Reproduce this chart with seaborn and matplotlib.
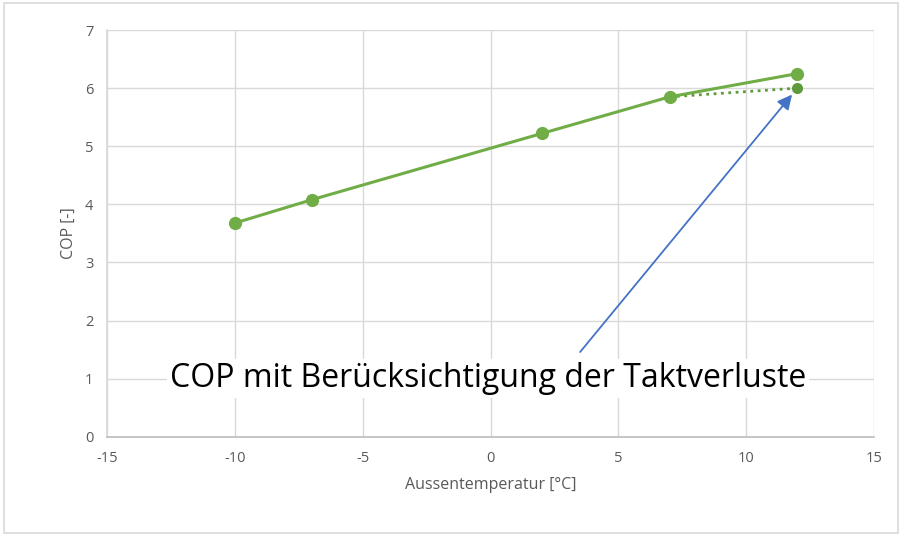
import numpy as np
import pandas as pd
import seaborn as sns
import matplotlib.pyplot as plt
from matplotlib.patches import Rectangle

# data
temp = [-10, -7, 2, 7, 12]
cop = [3.68, 4.08, 5.22, 5.85, 6.25]
cop_takt = [3.68, 4.08, 5.22, 5.85, 6.00]

sns.set_theme(style="white")
plt.rcParams['font.family'] = ['Open Sans', 'DejaVu Sans']
plt.rcParams['axes.unicode_minus'] = False

green = "#70AD47"
grey = "#595959"

fig, ax = plt.subplots(figsize=(9.02, 5.36), dpi=100)
fig.subplots_adjust(left=0.119, right=0.969, bottom=0.185, top=0.944)

df_takt = pd.DataFrame({"x": temp[3:], "y": cop_takt[3:]})
df = pd.DataFrame({"x": temp, "y": cop})

sns.lineplot(data=df_takt, x="x", y="y", ax=ax, color="#5E9A3A", linestyle=":",
             linewidth=2, marker="o", markersize=8, markeredgewidth=0)
sns.lineplot(data=df, x="x", y="y", ax=ax, color=green, linewidth=2.2,
             marker="o", markersize=9.5, markeredgewidth=0)

ax.set_xlim(-15, 15)
ax.set_ylim(0, 7)
ax.set_xticks(range(-15, 16, 5))
ax.set_yticks(range(0, 8))
ax.grid(True, color="#D9D9D9", linewidth=1)
for s in ax.spines.values():
    s.set_visible(False)
ax.spines['left'].set_visible(True)
ax.spines['bottom'].set_visible(True)
ax.spines['left'].set_color("#D9D9D9")
ax.spines['bottom'].set_color("#BFBFBF")
ax.tick_params(colors=grey, labelsize=10.5, length=0, pad=10)
ax.set_xlabel("Aussentemperatur [°C]", color=grey, fontsize=11.5, labelpad=8)
ax.set_ylabel("COP [-]", color=grey, fontsize=11.5, labelpad=6)

ax.annotate("", xy=(12, 6.0), xytext=(3.5, 1.46),
            arrowprops=dict(arrowstyle="-|>", color="#4472C4", lw=1.3,
                            mutation_scale=22, shrinkA=0, shrinkB=6))
ax.text(-0.1, 1.0, "COP mit Berücksichtigung der Taktverluste", ha="center",
        va="center", fontsize=23, color="black",
        bbox=dict(facecolor="white", edgecolor="none", pad=2))

fig.patches.append(Rectangle((0.004, 0.006), 0.992, 0.988, transform=fig.transFigure,
                             fill=False, edgecolor="#D9D9D9", linewidth=1.2))

fig.savefig("out.png", dpi=100)
